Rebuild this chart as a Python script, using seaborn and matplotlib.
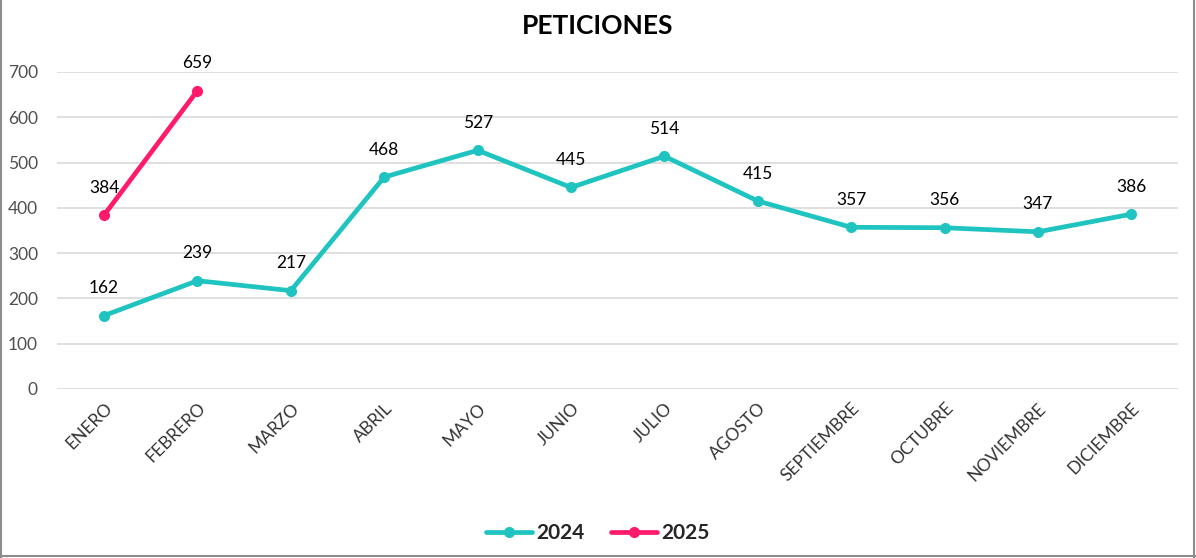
import pandas as pd
import seaborn as sns
import matplotlib.pyplot as plt
from matplotlib.lines import Line2D

months = ["ENERO", "FEBRERO", "MARZO", "ABRIL", "MAYO", "JUNIO", "JULIO",
          "AGOSTO", "SEPTIEMBRE", "OCTUBRE", "NOVIEMBRE", "DICIEMBRE"]
vals_2024 = [162, 239, 217, 468, 527, 445, 514, 415, 357, 356, 347, 386]
vals_2025 = [384, 659]
yticks = [0, 100, 200, 300, 400, 500, 600, 700]

colors = {"2024": "#1FC4C0", "2025": "#FF1A6C"}

df = pd.concat([
    pd.DataFrame({"mes": months, "valor": vals_2024, "anio": "2024"}),
    pd.DataFrame({"mes": months[:len(vals_2025)], "valor": vals_2025, "anio": "2025"}),
], ignore_index=True)
df["pos"] = df["mes"].map({m: i for i, m in enumerate(months)})

sns.set_style("white")
plt.rcParams["font.family"] = ["Lato", "DejaVu Sans"]

fig = plt.figure(figsize=(11.96, 5.58), dpi=100)
ax = fig.add_axes([0.048, 0.303, 0.937, 0.568])

sns.lineplot(data=df, x="pos", y="valor", hue="anio", palette=colors,
             marker="o", markersize=8, markeredgewidth=0, linewidth=3.4,
             ax=ax, legend=False)

for _, r in df.iterrows():
    ax.annotate(str(r["valor"]), (r["pos"], r["valor"]), xytext=(0, 14),
                textcoords="offset points", ha="center", va="bottom",
                fontsize=12.5, color="#000000")

ax.set_xlim(-0.5, len(months) - 0.5)
ax.set_ylim(0, 700)
ax.set_yticks(yticks)
ax.set_xticks(range(len(months)))
ax.set_xticklabels(months, rotation=45, ha="right", rotation_mode="anchor",
                   fontsize=12.5, color="#333333")
ax.tick_params(axis="y", labelsize=12.5, labelcolor="#505050", length=0, pad=14)
ax.tick_params(axis="x", length=0, pad=8)
ax.yaxis.grid(True, color="#D9D9D9", linewidth=1.2)
for s in ax.spines.values():
    s.set_visible(False)
ax.set_xlabel("")
ax.set_ylabel("")

fig.text(0.5, 0.953, "PETICIONES", ha="center", va="center",
         fontsize=19, fontweight="bold", color="#000000")

handles = [Line2D([], [], color=colors[k], marker="o", markersize=8,
                  markeredgewidth=0, linewidth=3.4) for k in colors]
fig.legend(handles, list(colors.keys()), loc="center",
           bbox_to_anchor=(0.5, 0.045), ncol=2, frameon=False,
           prop={"weight": "bold", "size": 15}, handlelength=2.2,
           handletextpad=0.2, columnspacing=1.3)

# outer frame: left, bottom, right only
for xs, ys in [([0.001, 0.001], [0.0, 1.0]),
               ([0.0, 1.0], [0.003, 0.003]),
               ([0.998, 0.998], [0.0, 1.0])]:
    fig.add_artist(Line2D(xs, ys, transform=fig.transFigure,
                          color="#8C8C8C", linewidth=1.5))

fig.savefig("out.png", dpi=100)
